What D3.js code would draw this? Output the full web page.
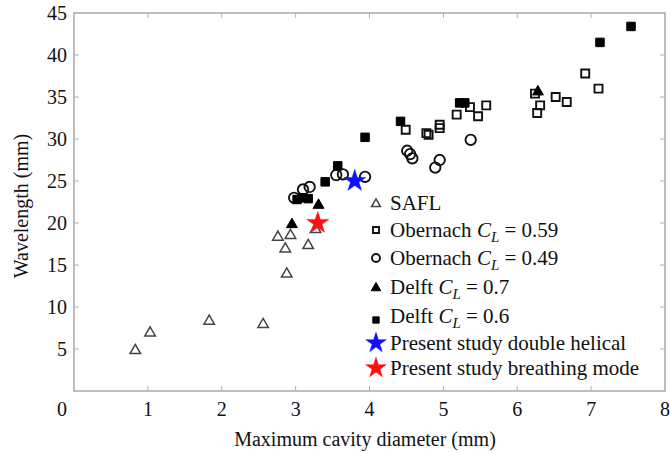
<!DOCTYPE html>
<html>
<head>
<meta charset="utf-8">
<script src="https://cdn.jsdelivr.net/npm/d3@7"></script>
<style>
  body { margin: 0; background: #fff; }
  svg { display: block; font-family: "Liberation Serif", "Times New Roman", serif; }
</style>
</head>
<body>
<div id="chart"></div>
<script>
// Data: [diameter (mm), wavelength (mm)]
const safl = [[0.83, 5.0], [1.03, 7.1], [1.83, 8.5], [2.56, 8.1], [2.76, 18.5], [2.93, 18.7],
              [2.86, 17.1], [3.17, 17.5], [2.88, 14.1], [3.27, 19.4]];
const obernach059 = [[4.49, 31.1], [4.77, 30.7], [4.80, 30.5], [4.95, 31.7], [4.95, 31.3], [5.18, 32.9],
                     [5.36, 33.8], [5.47, 32.7], [5.58, 34.0], [6.24, 35.4], [6.31, 34.0], [6.27, 33.1],
                     [6.52, 35.0], [6.67, 34.4], [6.92, 37.8], [7.10, 36.0]];
const obernach049 = [[5.37, 29.9], [4.51, 28.6], [4.55, 28.2], [4.58, 27.7], [4.95, 27.5], [4.89, 26.6],
                     [3.94, 25.5], [3.64, 25.8], [3.55, 25.7], [3.19, 24.3], [3.10, 24.0], [2.98, 23.0]];
const delft07 = [[2.95, 20.0], [3.31, 22.3], [6.28, 35.8]];
const delft06 = [[3.02, 22.8], [3.10, 23.0], [3.17, 22.9], [3.40, 24.9], [3.57, 26.8], [3.94, 30.2],
                 [4.42, 32.1], [5.22, 34.3], [5.29, 34.3], [7.12, 41.5], [7.54, 43.4]];
const doubleHelical = [[3.80, 25.0]];
const breathing = [[3.30, 20.0]];

const xTicks = [1, 2, 3, 4, 5, 6, 7, 8];
const yTicks = [5, 10, 15, 20, 25, 30, 35, 40, 45];

const W = 670, H = 453;
const m = {left: 74, right: 5, top: 13, bottom: 62};

const svg = d3.select('#chart').append('svg').attr('width', W).attr('height', H);

const x = d3.scaleLinear().domain([0, 8]).range([m.left, W - m.right]);
const y = d3.scaleLinear().domain([0, 45]).range([H - m.bottom, m.top]);

const axisColor = '#7f7f7f';
const tickLen = 5;
const fs = 20;

// frame
svg.append('rect')
    .attr('x', x(0)).attr('y', y(45))
    .attr('width', x(8) - x(0)).attr('height', y(0) - y(45))
    .attr('fill', 'none').attr('stroke', axisColor).attr('stroke-width', 1);

// ticks (inward, all four sides)
const g = svg.append('g').attr('stroke', '#b0b0b0').attr('stroke-width', 1);
xTicks.slice(0, -1).forEach(t => {
    g.append('line').attr('x1', x(t)).attr('x2', x(t)).attr('y1', y(0)).attr('y2', y(0) - tickLen);
    g.append('line').attr('x1', x(t)).attr('x2', x(t)).attr('y1', y(45)).attr('y2', y(45) + tickLen);
});
yTicks.slice(0, -1).forEach(t => {
    g.append('line').attr('x1', x(0)).attr('x2', x(0) + tickLen).attr('y1', y(t)).attr('y2', y(t));
    g.append('line').attr('x1', x(8)).attr('x2', x(8) - tickLen).attr('y1', y(t)).attr('y2', y(t));
});

// tick labels
svg.selectAll('text.xt').data(xTicks).enter().append('text')
    .attr('class', 'xt')
    .attr('x', d => x(d)).attr('y', y(0) + 25)
    .attr('text-anchor', 'middle').attr('font-size', fs).attr('fill', '#111')
    .text(d => d);
svg.append('text')
    .attr('x', x(0) - 12).attr('y', y(0) + 25)
    .attr('text-anchor', 'middle').attr('font-size', fs).attr('fill', '#111')
    .text('0');
svg.selectAll('text.yt').data(yTicks).enter().append('text')
    .attr('class', 'yt')
    .attr('x', x(0) - 7).attr('y', d => y(d)).attr('dy', '0.35em')
    .attr('text-anchor', 'end').attr('font-size', fs).attr('fill', '#111')
    .text(d => d);

// axis titles
svg.append('text')
    .attr('x', 365).attr('y', 446)
    .attr('text-anchor', 'middle').attr('font-size', fs).attr('fill', '#111')
    .text('Maximum cavity diameter (mm)');
svg.append('text')
    .attr('transform', `translate(28, ${(y(0) + y(45)) / 2 + 4}) rotate(-90)`)
    .attr('text-anchor', 'middle').attr('font-size', fs).attr('fill', '#111')
    .text('Wavelength (mm)');

// series styles
const series = [
    {name: 'safl', data: safl, type: d3.symbolTriangle, size: 48, fill: 'none', stroke: '#444', sw: 1.5, dy: 1.5},
    {name: 'ob59', data: obernach059, type: d3.symbolSquare, size: 64, fill: 'none', stroke: '#111', sw: 1.9},
    {name: 'ob49', data: obernach049, type: d3.symbolCircle, size: 85, fill: 'none', stroke: '#111', sw: 1.9},
    {name: 'd07', data: delft07, type: d3.symbolTriangle, size: 52, fill: '#000', stroke: '#000', sw: 1, dy: 1.5},
    {name: 'd06', data: delft06, type: d3.symbolSquare, size: 72, fill: '#000', stroke: '#000', sw: 1},
    {name: 'dh', data: doubleHelical, type: d3.symbolStar, size: 150, fill: '#1010ff', stroke: '#1010ff', sw: 0.5},
    {name: 'br', data: breathing, type: d3.symbolStar, size: 150, fill: '#ff1010', stroke: '#ff1010', sw: 0.5}
];

series.forEach(s => {
    svg.append('g').attr('class', s.name)
        .selectAll('path').data(s.data).enter().append('path')
        .attr('d', d3.symbol().type(s.type).size(s.size))
        .attr('transform', d => `translate(${x(d[0])}, ${y(d[1]) + (s.dy || 0)})`)
        .attr('fill', s.fill).attr('stroke', s.stroke).attr('stroke-width', s.sw);
});

// legend
const legendItems = [
    {label: ['SAFL'], s: 0, size: 34},
    {label: ['Obernach ', 'C', 'L', ' = 0.59'], s: 1, size: 36},
    {label: ['Obernach ', 'C', 'L', ' = 0.49'], s: 2, size: 50},
    {label: ['Delft ', 'C', 'L', ' = 0.7'], s: 3, size: 40},
    {label: ['Delft ', 'C', 'L', ' = 0.6'], s: 4, size: 40},
    {label: ['Present study double helical'], s: 5, size: 130},
    {label: ['Present study breathing mode'], s: 6, size: 130}
];
const legendY = [203, 230, 258, 287, 316, 343, 368];

legendItems.forEach((it, i) => {
    const s = series[it.s];
    const ly = legendY[i];
    svg.append('path')
        .attr('d', d3.symbol().type(s.type).size(it.size))
        .attr('transform', `translate(${376}, ${ly + (s.dy ? 1 : 0) + (i === 4 ? 4 : 0)})`)
        .attr('fill', s.fill).attr('stroke', s.stroke).attr('stroke-width', s.sw);
    const t = svg.append('text')
        .attr('x', 390).attr('y', ly).attr('dy', '0.35em')
        .attr('font-size', 21).attr('fill', '#111');
    if (it.label.length === 1) {
        t.text(it.label[0]);
    } else {
        t.append('tspan').text(it.label[0]);
        t.append('tspan').attr('font-style', 'italic').text(it.label[1]);
        t.append('tspan').attr('font-style', 'italic').attr('font-size', 15).attr('dy', 5).text(it.label[2]);
        t.append('tspan').attr('dy', -5).text(it.label[3]);
    }
});
</script>
</body>
</html>
